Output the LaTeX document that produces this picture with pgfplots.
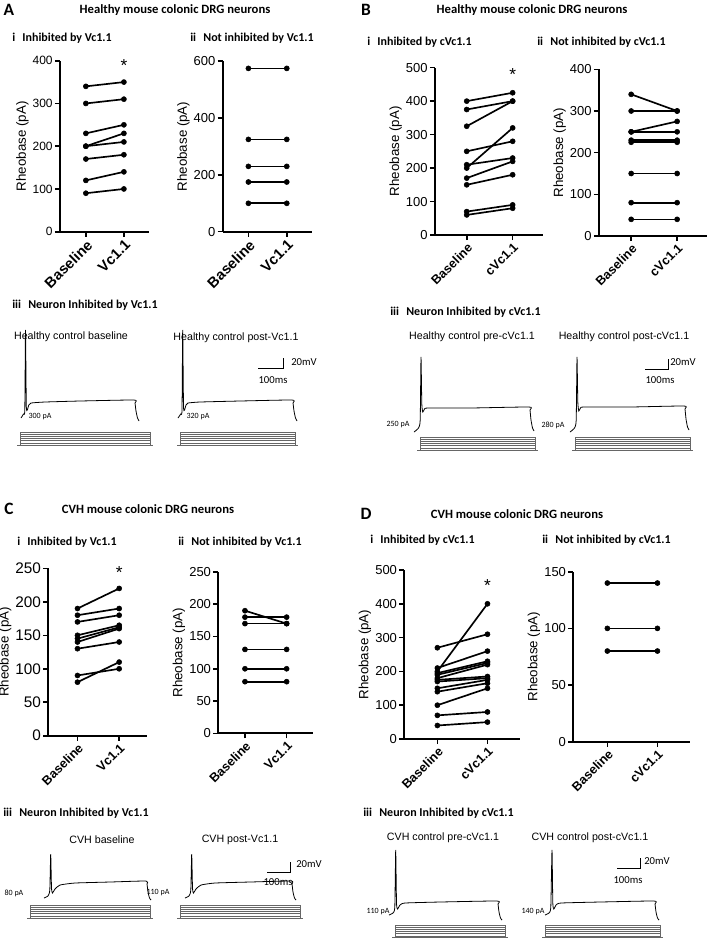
\documentclass[border=0pt]{standalone}
\usepackage{fontspec}
\setmainfont{Liberation Sans}
\newfontfamily\calf{Carlito}
\usepackage{pgfplots}
\pgfplotsset{compat=1.18}
\newcommand\pr[2]{\addplot[pl] coordinates {(0,#1) (1,#2)};}
\begin{document}
\begin{tikzpicture}[x=0.75pt,y=-0.75pt]
\path[use as bounding box] (0,0) rectangle (709,952);
\pgfplotsset{
 pl/.style={black, line width=1.25pt, mark=*, mark size=1.9pt, mark options={line width=0.4pt}},
 rheo/.style={
  scale only axis, anchor=south west,
  axis lines=left, axis line style={-, line width=1.4pt},
  tick align=outside, major tick length=3.8pt,
  tick style={line width=1.2pt, black},
  ymin=0, xtick={0,1},
  /pgf/number format/assume math mode=true,
  yticklabel style={font=\fontsize{9.75}{10}\selectfont, inner sep=1.5pt},
  ylabel={Rheobase (pA)},
  ylabel style={font=\fontsize{10}{11}\selectfont, yshift=-2pt},
  xticklabel style={rotate=45, anchor=north east, font=\bfseries\fontsize{9.5}{10}\selectfont, inner sep=1pt},
  clip=false,
 },
 bigx/.style={xticklabel style={font=\bfseries\fontsize{11}{12}\selectfont}},
 trace/.style={black, line width=0.6pt, smooth, tension=0.3},
 stim/.style={black!60, line width=0.55pt},
}
% ---------------- headers ----------------
\node[font=\calf\bfseries\fontsize{13}{14}\selectfont] at (9,10) {A};
\node[font=\calf\bfseries\fontsize{9.5}{11}\selectfont] at (175,10) {Healthy mouse colonic DRG neurons};
\node[font=\calf\bfseries\fontsize{13}{14}\selectfont] at (366,10) {B};
\node[font=\calf\bfseries\fontsize{9.5}{11}\selectfont] at (532,10) {Healthy mouse colonic DRG neurons};
\node[font=\calf\bfseries\fontsize{9}{10}\selectfont, anchor=west, inner sep=0] at (12,38) {i\hspace{0.6em}Inhibited by Vc1.1};
\node[font=\calf\bfseries\fontsize{9}{10}\selectfont, anchor=west, inner sep=0] at (190,38) {ii\hspace{0.6em}Not inhibited by Vc1.1};
\node[font=\calf\bfseries\fontsize{9}{10}\selectfont, anchor=west, inner sep=0] at (367,42) {i\hspace{0.6em}Inhibited by cVc1.1};
\node[font=\calf\bfseries\fontsize{9}{10}\selectfont, anchor=west, inner sep=0] at (537,42) {ii\hspace{0.6em}Not inhibited by cVc1.1};
\node[font=\calf\bfseries\fontsize{9}{10}\selectfont, anchor=west, inner sep=0] at (12,305) {iii\hspace{0.6em}Neuron Inhibited by Vc1.1};
\node[font=\calf\bfseries\fontsize{9}{10}\selectfont, anchor=west, inner sep=0] at (390,312) {iii\hspace{0.6em}Neuron Inhibited by cVc1.1};
\node[font=\calf\bfseries\fontsize{13}{14}\selectfont] at (9,509) {C};
\node[font=\calf\bfseries\fontsize{9.5}{11}\selectfont] at (148,509) {CVH mouse colonic DRG neurons};
\node[font=\calf\bfseries\fontsize{13}{14}\selectfont] at (366,514) {D};
\node[font=\calf\bfseries\fontsize{9.5}{11}\selectfont] at (517,514) {CVH mouse colonic DRG neurons};
\node[font=\calf\bfseries\fontsize{9}{10}\selectfont, anchor=west, inner sep=0] at (17,542) {i\hspace{0.6em}Inhibited by Vc1.1};
\node[font=\calf\bfseries\fontsize{9}{10}\selectfont, anchor=west, inner sep=0] at (178,542) {ii\hspace{0.6em}Not inhibited by Vc1.1};
\node[font=\calf\bfseries\fontsize{9}{10}\selectfont, anchor=west, inner sep=0] at (370,540) {i\hspace{0.6em}Inhibited by cVc1.1};
\node[font=\calf\bfseries\fontsize{9}{10}\selectfont, anchor=west, inner sep=0] at (542,540) {ii\hspace{0.6em}Not inhibited by cVc1.1};
\node[font=\calf\bfseries\fontsize{9}{10}\selectfont, anchor=west, inner sep=0] at (3,813) {iii\hspace{0.6em}Neuron Inhibited by Vc1.1};
\node[font=\calf\bfseries\fontsize{9}{10}\selectfont, anchor=west, inner sep=0] at (363,813) {iii\hspace{0.6em}Neuron Inhibited by cVc1.1};
% ---------------- A i ----------------
\begin{axis}[rheo, bigx, at={(60*0.75pt,-231.7*0.75pt)}, width=66.75pt, height=128.25pt,
  xmin=-0.68, xmax=1.66, ymax=400, ytick={0,100,...,400}, xticklabels={Baseline,Vc1.1},
  yticklabel style={font=\fontsize{9}{10}\selectfont}]
\pr{340}{350}\pr{300}{310}\pr{230}{250}\pr{200}{230}\pr{200}{210}\pr{170}{180}\pr{120}{140}\pr{90}{100}
\node[font=\fontsize{13}{13}\selectfont] at (axis cs:1,388) {*};
\end{axis}
% ---------------- A ii ----------------
\begin{axis}[rheo, bigx, at={(222.7*0.75pt,-231.7*0.75pt)}, width=66.75pt, height=127.8pt,
  xmin=-0.67, xmax=1.65, ymax=600, ytick={0,200,...,600}, xticklabels={Baseline,Vc1.1}]
\pr{575}{575}\pr{325}{325}\pr{230}{230}\pr{175}{175}\pr{100}{100}
\end{axis}
% ---------------- B i ----------------
\begin{axis}[rheo, at={(435*0.75pt,-235*0.75pt)}, width=81pt, height=125.5pt,
  xmin=-0.69, xmax=1.66, ymax=500, ytick={0,100,...,500}, xticklabels={Baseline,cVc1.1}]
\pr{400}{425}\pr{375}{400}\pr{325}{400}\pr{250}{280}\pr{200}{320}\pr{210}{230}\pr{170}{220}\pr{150}{180}\pr{70}{90}\pr{60}{80}
\node[font=\fontsize{13}{13}\selectfont] at (axis cs:1,478) {*};
\end{axis}
% ---------------- B ii ----------------
\begin{axis}[rheo, at={(599*0.75pt,-236*0.75pt)}, width=81pt, height=125pt,
  xmin=-0.70, xmax=1.65, ymax=400, ytick={0,100,...,400}, xticklabels={Baseline,cVc1.1}]
\pr{340}{300}\pr{300}{300}\pr{250}{275}\pr{250}{250}\pr{230}{230}\pr{225}{225}\pr{150}{150}\pr{80}{80}\pr{40}{40}
\end{axis}
% ---------------- C i ----------------
\begin{axis}[rheo, at={(48.3*0.75pt,-735.7*0.75pt)}, width=73.8pt, height=125.5pt,
  xmin=-0.70, xmax=1.66, ymax=250, ytick={0,50,...,250}, xticklabels={Baseline,Vc1.1},
  yticklabel style={font=\fontsize{11.5}{12}\selectfont}]
\pr{190}{220}\pr{180}{190}\pr{170}{180}\pr{150}{165}\pr{145}{162}\pr{140}{160}\pr{130}{140}\pr{90}{100}\pr{80}{110}
\node[font=\fontsize{13}{13}\selectfont] at (axis cs:1,244) {*};
\end{axis}
% ---------------- C ii ----------------
\begin{axis}[rheo, at={(218.3*0.75pt,-733.3*0.75pt)}, width=71.25pt, height=121pt,
  xmin=-0.64, xmax=1.64, ymax=250, ytick={0,50,...,250}, xticklabels={Baseline,Vc1.1}]
\pr{190}{170}\pr{180}{180}\pr{170}{170}\pr{130}{130}\pr{100}{100}\pr{80}{80}
\end{axis}
% ---------------- D i ----------------
\begin{axis}[rheo, at={(404.3*0.75pt,-739*0.75pt)}, width=86.8pt, height=126.75pt,
  xmin=-0.66, xmax=1.65, ymax=500, ytick={0,100,...,500}, xticklabels={Baseline,cVc1.1}]
\pr{270}{310}\pr{200}{400}\pr{210}{260}\pr{195}{230}\pr{190}{225}\pr{180}{220}\pr{175}{185}\pr{170}{180}\pr{150}{175}\pr{140}{165}\pr{100}{150}\pr{70}{80}\pr{40}{50}
\node[font=\fontsize{13}{13}\selectfont] at (axis cs:1,455) {*};
\end{axis}
% ---------------- D ii ----------------
\begin{axis}[rheo, at={(573.3*0.75pt,-741.7*0.75pt)}, width=87.5pt, height=127.5pt,
  xmin=-0.68, xmax=1.65, ymax=150, ytick={0,50,...,150}, xticklabels={Baseline,cVc1.1}]
\pr{140}{140}\pr{100}{100}\pr{80}{80}
\end{axis}
% ---------------- traces (pixel units) ----------------
\begin{axis}[at={(0,0)}, anchor=north west, scale only axis, width=531.75pt, height=714pt,
  xmin=0, xmax=709, ymin=0, ymax=952, y dir=reverse, hide axis, clip=false]
% A
\addplot[trace] coordinates {(21,418) (23.5,414) (24.8,410) (25.5,330) (26.3,406) (27.3,410) (28.8,405) (31,403) (45,402) (80,401) (134,400) (135,403) (136,411) (137.5,418) (139,421)};
\addplot[trace] coordinates {(178,418) (180.7,414) (182,410) (182.7,330) (183.5,406) (184.5,410) (186,405) (188,403) (200,402) (240,401) (292,400) (293,403) (294,411) (295.5,418) (297,421)};
% B
\addplot[trace] coordinates {(414,432) (418.5,428) (420.2,420) (421,357) (421.8,404) (422.8,412) (424.5,409) (428,408) (470,408) (529,407) (530,410) (531,420) (532.5,428) (534,431)};
\addplot[trace] coordinates {(570,432) (574.5,428) (576.2,420) (577,357) (577.8,402) (578.8,411) (580.5,408) (584,407) (630,407) (684,406) (685,409) (686,419) (687.5,427) (689,430)};
% C
\addplot[trace] coordinates {(44,898) (48,896) (49.8,890) (50.7,854) (51.5,888) (52.5,893) (55,889) (60,885) (75,883) (110,882) (146,881) (147,884) (148,892) (149.5,898) (151,900)};
\addplot[trace] coordinates {(185,898) (189,896) (190.8,890) (191.7,854) (192.5,888) (193.5,893) (196,889) (201,885) (215,883) (250,882) (291,881) (292,884) (293,892) (294.5,898) (296,900)};
% D
\addplot[trace] coordinates {(389,915) (393,913) (394.8,907) (395.7,850) (396.5,903) (397.5,909) (400,905) (405,903) (440,902) (497,901) (498,904) (499,912) (500.5,918) (502,920)};
\addplot[trace] coordinates {(545,915) (549,913) (550.8,907) (552,850) (552.8,903) (553.8,909) (556,905) (561,903) (600,902) (654,901) (655,904) (656,912) (657.5,918) (659,920)};
% stimulus steps
\foreach \xa/\xb/\yt/\yb in {20/150/432/445, 180/295/432/445, 420/535/437/450, 575/690/437/450, 30/150/905/918, 180/300/905/918, 395/505/925/937, 545/660/925/937}{
  \addplot[stim] coordinates {(\xa-3,\yb) (\xb+3,\yb)};
  \addplot[stim] coordinates {(\xa,\yb) (\xa,\yt) (\xb,\yt) (\xb,\yb)};
  \addplot[stim] coordinates {(\xa,\yt+2.2) (\xb,\yt+2.2)};
  \addplot[stim] coordinates {(\xa,\yt+4.4) (\xb,\yt+4.4)};
  \addplot[stim] coordinates {(\xa,\yt+6.6) (\xb,\yt+6.6)};
  \addplot[stim] coordinates {(\xa,\yt+8.8) (\xb,\yt+8.8)};
  \addplot[stim] coordinates {(\xa,\yt+11) (\xb,\yt+11)};
}
% scale bars
\addplot[black, line width=0.6pt] coordinates {(258,368) (283,368) (283,358)};
\addplot[black, line width=0.6pt] coordinates {(645,369) (668,369) (668,359)};
\addplot[black, line width=0.6pt] coordinates {(267,872) (290,872) (290,862)};
\addplot[black, line width=0.6pt] coordinates {(617,868) (640,868) (640,858)};
\end{axis}
% trace texts
\begin{scope}[every node/.style={font=\fontsize{8}{9}\selectfont}]
\node at (71,337) {Healthy control baseline};
\node at (236,338) {Healthy control post-Vc1.1};
\node at (472,337) {Healthy control pre-cVc1.1};
\node at (624,337) {Healthy control post-cVc1.1};
\node at (102,840) {CVH baseline};
\node at (240,840) {CVH post-Vc1.1};
\node at (443,838) {CVH control pre-cVc1.1};
\node at (590,838) {CVH control post-cVc1.1};
\end{scope}
\begin{scope}[every node/.style={font=\calf\fontsize{6}{7}\selectfont, inner sep=0}]
\node at (40,417) {300 pA};
\node at (198,417) {320 pA};
\node at (398,425) {250 pA};
\node at (553,425) {280 pA};
\node at (14,893) {80 pA};
\node at (158,893) {110 pA};
\node at (378,912) {110 pA};
\node at (533,912) {140 pA};
\end{scope}
\begin{scope}[every node/.style={font=\calf\fontsize{8}{9}\selectfont, inner sep=0}]
\node[anchor=west] at (291,362) {20mV};
\node at (273,380) {100ms};
\node[anchor=west] at (670,362) {20mV};
\node at (660,380) {100ms};
\node[anchor=west] at (296,864) {20mV};
\node at (278,882) {100ms};
\node[anchor=west] at (644,861) {20mV};
\node at (628,880) {100ms};
\end{scope}
\end{tikzpicture}
\end{document}
